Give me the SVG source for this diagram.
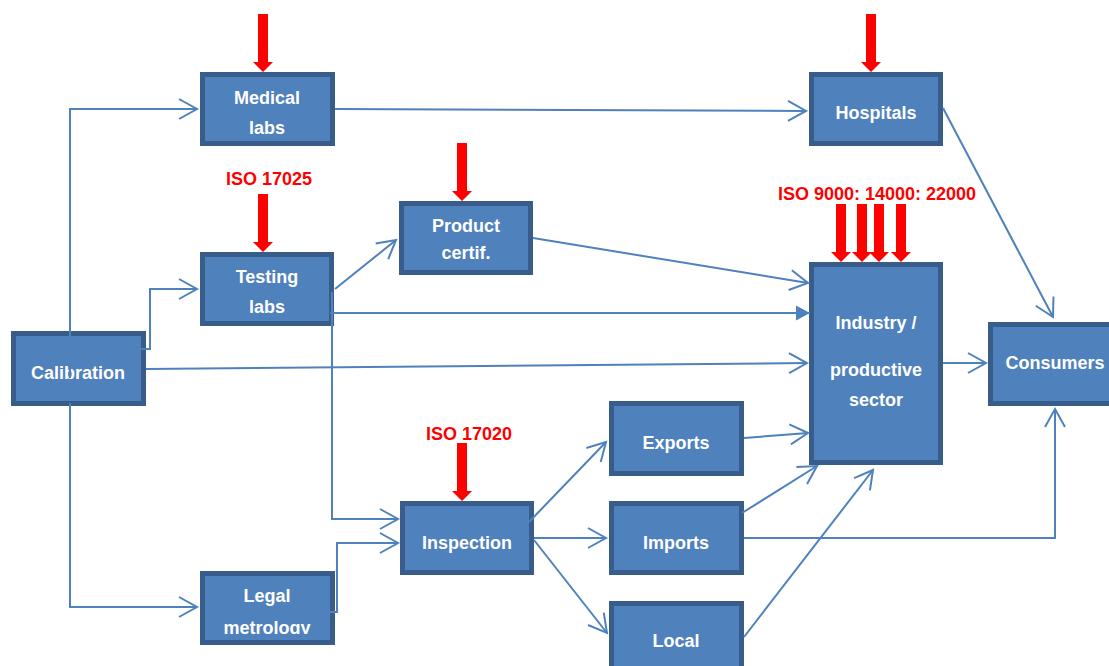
<svg xmlns="http://www.w3.org/2000/svg" xmlns:xlink="http://www.w3.org/1999/xlink" width="1109" height="666" viewBox="0 0 1109 666">
<style>
.box{fill:#4F81BD;stroke:#385D8A;stroke-width:5}
.lbl{font-family:"Liberation Sans",Arial,sans-serif;font-weight:bold;font-size:18px;fill:#FFFFFF;text-anchor:middle}
.iso{font-family:"Liberation Sans",Arial,sans-serif;font-weight:bold;font-size:18px;fill:#FF0000;text-anchor:middle}
.con{fill:none;stroke:#4F81BD;stroke-width:2}
.red{fill:#FF0000}
</style>
<defs>
<marker id="open" markerUnits="userSpaceOnUse" markerWidth="24" markerHeight="24" viewBox="0 0 24 24" refX="21" refY="12" orient="auto">
<path d="M3,2 L21,12 L3,22" fill="none" stroke="#4F81BD" stroke-width="2"/>
</marker>
<marker id="filled" markerUnits="userSpaceOnUse" markerWidth="16" markerHeight="16" viewBox="0 0 16 16" refX="15" refY="8" orient="auto">
<path d="M1,0.5 L15,8 L1,15.5 Z" fill="#4F81BD"/>
</marker>
<path id="redarrow" d="M-5,0 H5 V48 H10 L0,58 L-10,48 H-5 Z"/>
<clipPath id="legalclip"><rect x="200" y="571" width="135" height="63"/></clipPath>
</defs>
<rect width="1109" height="666" fill="#FFFFFF"/>

<g id="n-medical"><rect class="box" x="202.5" y="74.5" width="130" height="69"/><text class="lbl" x="267" y="103.5">Medical</text><text class="lbl" x="267" y="134">labs</text></g>
<g id="n-testing"><rect class="box" x="202.5" y="254.5" width="129" height="69"/><text class="lbl" x="267" y="283">Testing</text><text class="lbl" x="267" y="313">labs</text></g>
<g id="n-calibration"><rect class="box" x="13.5" y="333.5" width="130" height="70"/><text class="lbl" x="78" y="379">Calibration</text></g>
<g id="n-legal"><rect class="box" x="202.5" y="573.5" width="130" height="69"/><text class="lbl" x="267" y="602">Legal</text><text class="lbl" x="267" y="634" clip-path="url(#legalclip)">metrology</text></g>
<g id="n-product"><rect class="box" x="401.5" y="203.5" width="129" height="69"/><text class="lbl" x="466" y="232">Product</text><text class="lbl" x="466" y="259">certif.</text></g>
<g id="n-hospitals"><rect class="box" x="811.5" y="74.5" width="129" height="69"/><text class="lbl" x="876" y="119">Hospitals</text></g>
<g id="n-industry"><rect class="box" x="811.5" y="264.5" width="129" height="198"/><text class="lbl" x="876" y="329">Industry /</text><text class="lbl" x="876" y="376">productive</text><text class="lbl" x="876" y="406">sector</text></g>
<g id="n-consumers"><rect class="box" x="990.5" y="324.5" width="130" height="79"/><text class="lbl" x="1055" y="369">Consumers</text></g>
<g id="n-inspection"><rect class="box" x="402.5" y="503.5" width="129" height="69"/><text class="lbl" x="467" y="549">Inspection</text></g>
<g id="n-exports"><rect class="box" x="611.5" y="403.5" width="130" height="70"/><text class="lbl" x="676" y="449">Exports</text></g>
<g id="n-imports"><rect class="box" x="611.5" y="503.5" width="130" height="69"/><text class="lbl" x="676" y="549">Imports</text></g>
<g id="n-local"><rect class="box" x="611.5" y="603.5" width="130" height="100"/><text class="lbl" x="676" y="647">Local</text></g>

<g id="standards">
<text class="iso" x="269" y="185">ISO 17025</text>
<text class="iso" x="877" y="200">ISO 9000: 14000: 22000</text>
<text class="iso" x="469" y="440">ISO 17020</text>
<use xlink:href="#redarrow" class="red" x="263" y="14"/>
<use xlink:href="#redarrow" class="red" x="263" y="194"/>
<use xlink:href="#redarrow" class="red" x="462" y="143"/>
<use xlink:href="#redarrow" class="red" x="871" y="14"/>
<use xlink:href="#redarrow" class="red" x="462" y="443"/>
<use xlink:href="#redarrow" class="red" x="841" y="204"/>
<use xlink:href="#redarrow" class="red" x="862" y="204"/>
<use xlink:href="#redarrow" class="red" x="879" y="204"/>
<use xlink:href="#redarrow" class="red" x="901" y="204"/>
</g>

<g id="connectors">
<path class="con" d="M70,378 V109 H197" marker-end="url(#open)"/>
<path class="con" d="M70,403 V607 H197" marker-end="url(#open)"/>
<path class="con" d="M100,349 H150 V289 H197" marker-end="url(#open)"/>
<path class="con" d="M146,369 L807,363" marker-end="url(#open)"/>
<path class="con" d="M335,109 L806,111" marker-end="url(#open)"/>
<path class="con" d="M335,289 L396,240" marker-end="url(#open)"/>
<path class="con" d="M330,313 H810" marker-end="url(#filled)"/>
<path class="con" d="M332,292 V519 H398" marker-end="url(#open)"/>
<path class="con" d="M273,612 H337 V543 H398" marker-end="url(#open)"/>
<path class="con" d="M533,238 L808,283" marker-end="url(#open)"/>
<path class="con" d="M943,108 L1053,317" marker-end="url(#open)"/>
<path class="con" d="M943,363 H986" marker-end="url(#open)"/>
<path class="con" d="M529,522 L606,442" marker-end="url(#open)"/>
<path class="con" d="M534,538 H606" marker-end="url(#open)"/>
<path class="con" d="M534,540 L607,633" marker-end="url(#open)"/>
<path class="con" d="M744,438 L808,433" marker-end="url(#open)"/>
<path class="con" d="M742,513 L817,466" marker-end="url(#open)"/>
<path class="con" d="M744,637 L873,470" marker-end="url(#open)"/>
<path class="con" d="M744,538 H1055 V409" marker-end="url(#open)"/>
</g>
</svg>
